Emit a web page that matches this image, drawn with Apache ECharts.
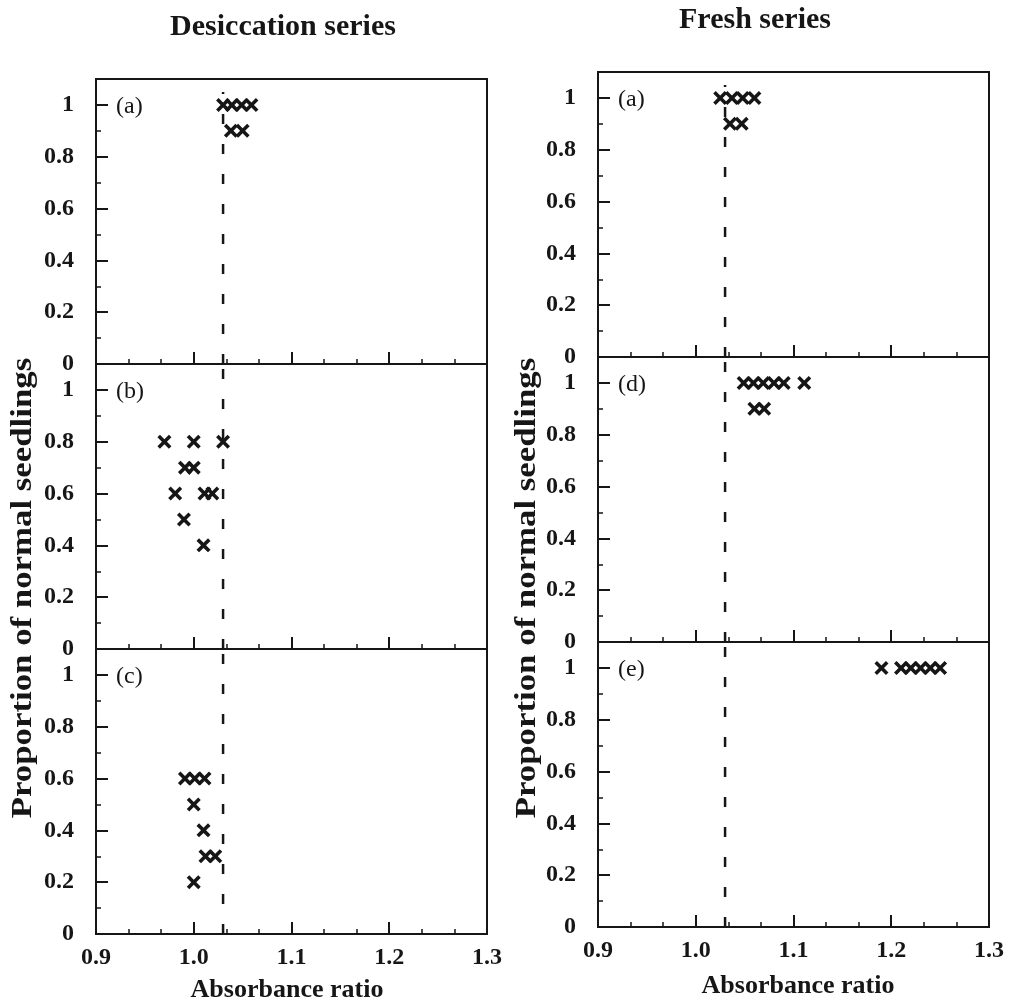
<!DOCTYPE html>
<html>
<head>
<meta charset="utf-8">
<title>Absorbance ratio vs proportion of normal seedlings</title>
<script src="https://cdn.jsdelivr.net/npm/echarts@6/dist/echarts.min.js"></script>
<style>
  html, body { margin: 0; padding: 0; background: #ffffff; }
  #chart { width: 1010px; height: 1006px; }
</style>
</head>
<body>
<div id="chart"></div>
<script>
// ---- data ----------------------------------------------------------------
const panelTags = ['(a)', '(b)', '(c)', '(a)', '(d)', '(e)'];
const seriesTitles = ['Desiccation series', 'Fresh series'];
const xTitle = 'Absorbance ratio';
const yTitle = 'Proportion of normal seedlings';

const xTickValues = [0.9, 1.0, 1.1, 1.2, 1.3];
const yTickValues = [0, 0.2, 0.4, 0.6, 0.8, 1];
const yMinorValues = [0.1, 0.3, 0.5, 0.7, 0.9];
const thresholdRatio = 1.03;

// [absorbance ratio, proportion of normal seedlings]
const desiccationA = [[1.03, 1], [1.039, 1], [1.049, 1], [1.059, 1], [1.038, 0.9], [1.05, 0.9]];
const desiccationB = [[0.97, 0.8], [1.0, 0.8], [1.03, 0.8], [0.991, 0.7], [1.0, 0.7],
                      [0.981, 0.6], [1.011, 0.6], [1.019, 0.6], [0.99, 0.5], [1.01, 0.4]];
const desiccationC = [[0.991, 0.6], [1.001, 0.6], [1.011, 0.6], [1.0, 0.5], [1.01, 0.4],
                      [1.012, 0.3], [1.022, 0.3], [1.0, 0.2]];
const freshA = [[1.025, 1], [1.037, 1], [1.048, 1], [1.06, 1], [1.035, 0.9], [1.047, 0.9]];
const freshD = [[1.049, 1], [1.059, 1], [1.069, 1], [1.08, 1], [1.09, 1], [1.111, 1],
                [1.06, 0.9], [1.07, 0.9]];
const freshE = [[1.19, 1], [1.21, 1], [1.22, 1], [1.23, 1], [1.24, 1], [1.25, 1]];

const panelData = [desiccationA, desiccationB, desiccationC, freshA, freshD, freshE];
// top of the dashed threshold line in each panel
const thresholdTop = [1.05, 1.1, 1.1, 1.05, 1.1, 1.1];

// ---- layout & style ------------------------------------------------------
const INK = '#161616';
const SERIF = '"Liberation Serif", "Times New Roman", "DejaVu Serif", serif';
const PW = 391, PH = 285;
const panelBox = [
  { left: 96,  top: 79 },  { left: 96,  top: 364 }, { left: 96,  top: 649 },
  { left: 598, top: 72 },  { left: 598, top: 357 }, { left: 598, top: 642 }
];
// filled "x" marker
const crossPath = 'path://M0,18L18,0L50,32L82,0L100,18L68,50L100,82L82,100L50,68L18,100L0,82L32,50Z';

const grids = [], xAxes = [], yAxes = [], series = [], graphics = [];

panelBox.forEach((b, i) => {
  const isBottom = (i % 3) === 2;
  grids.push({
    left: b.left, top: b.top, width: PW, height: PH,
    show: true, borderColor: INK, borderWidth: 2, backgroundColor: 'transparent'
  });
  xAxes.push({
    type: 'value', gridIndex: i, min: 0.9, max: 1.3, interval: 0.1,
    axisLine: { show: false },
    axisTick: { show: true, inside: true, length: 12, customValues: [1.0, 1.1, 1.2],
                lineStyle: { color: INK, width: 2 } },
    minorTick: { show: true, splitNumber: 3, length: 5, lineStyle: { color: INK, width: 1.5 } },
    splitLine: { show: false },
    axisLabel: {
      show: isBottom, customValues: xTickValues, margin: 12,
      formatter: v => v.toFixed(1),
      color: INK, fontFamily: SERIF, fontWeight: 'bold', fontSize: 24
    }
  });
  // major ticks + labels
  yAxes.push({
    type: 'value', gridIndex: i, min: 0, max: 1.1, position: 'left',
    axisLine: { show: false },
    axisTick: { show: true, inside: true, length: 12, customValues: yTickValues,
                lineStyle: { color: INK, width: 2 } },
    splitLine: { show: false },
    axisLabel: {
      customValues: yTickValues, margin: 22,
      formatter: v => (v === 0 || v === 1) ? String(v) : v.toFixed(1),
      color: INK, fontFamily: SERIF, fontWeight: 'bold', fontSize: 24
    }
  });
  // minor ticks
  yAxes.push({
    type: 'value', gridIndex: i, min: 0, max: 1.1, position: 'left',
    axisLine: { show: false },
    axisTick: { show: true, inside: true, length: 5, customValues: yMinorValues,
                lineStyle: { color: INK, width: 1.5 } },
    splitLine: { show: false },
    axisLabel: { show: false }
  });

  series.push({
    type: 'line', xAxisIndex: i, yAxisIndex: i * 2,
    data: [[thresholdRatio, 0], [thresholdRatio, thresholdTop[i]]],
    symbol: 'none', silent: true, z: 1,
    lineStyle: { color: INK, width: 2.5, type: [10, 20] }
  });
  series.push({
    type: 'scatter', xAxisIndex: i, yAxisIndex: i * 2,
    data: panelData[i], symbol: crossPath, symbolSize: 14, z: 3,
    itemStyle: { color: INK, opacity: 1 }
  });

  graphics.push({
    type: 'text', left: b.left + 20, top: b.top + 16,
    style: { text: panelTags[i], fill: INK, font: '24px ' + SERIF }
  });
});

// titles and axis names
graphics.push(
  { type: 'text', x: 283, y: 27,
    style: { text: seriesTitles[0], fill: INK, font: 'bold 30px ' + SERIF, align: 'center', verticalAlign: 'middle' } },
  { type: 'text', x: 755, y: 20,
    style: { text: seriesTitles[1], fill: INK, font: 'bold 30px ' + SERIF, align: 'center', verticalAlign: 'middle' } },
  { type: 'text', x: 287, y: 990,
    style: { text: xTitle, fill: INK, font: 'bold 26px ' + SERIF, align: 'center', verticalAlign: 'middle' } },
  { type: 'text', x: 798, y: 986,
    style: { text: xTitle, fill: INK, font: 'bold 26px ' + SERIF, align: 'center', verticalAlign: 'middle' } },
  { type: 'text', x: 24, y: 588, rotation: Math.PI / 2, scaleX: 1.2,
    style: { text: yTitle, fill: INK, font: 'bold 29px ' + SERIF, align: 'center', verticalAlign: 'middle' } },
  { type: 'text', x: 528, y: 588, rotation: Math.PI / 2, scaleX: 1.2,
    style: { text: yTitle, fill: INK, font: 'bold 29px ' + SERIF, align: 'center', verticalAlign: 'middle' } }
);

const chart = echarts.init(document.getElementById('chart'), null, { renderer: 'canvas' });
chart.setOption({
  backgroundColor: '#ffffff',
  animation: false,
  grid: grids,
  xAxis: xAxes,
  yAxis: yAxes,
  series: series,
  graphic: graphics
});
</script>
</body>
</html>
